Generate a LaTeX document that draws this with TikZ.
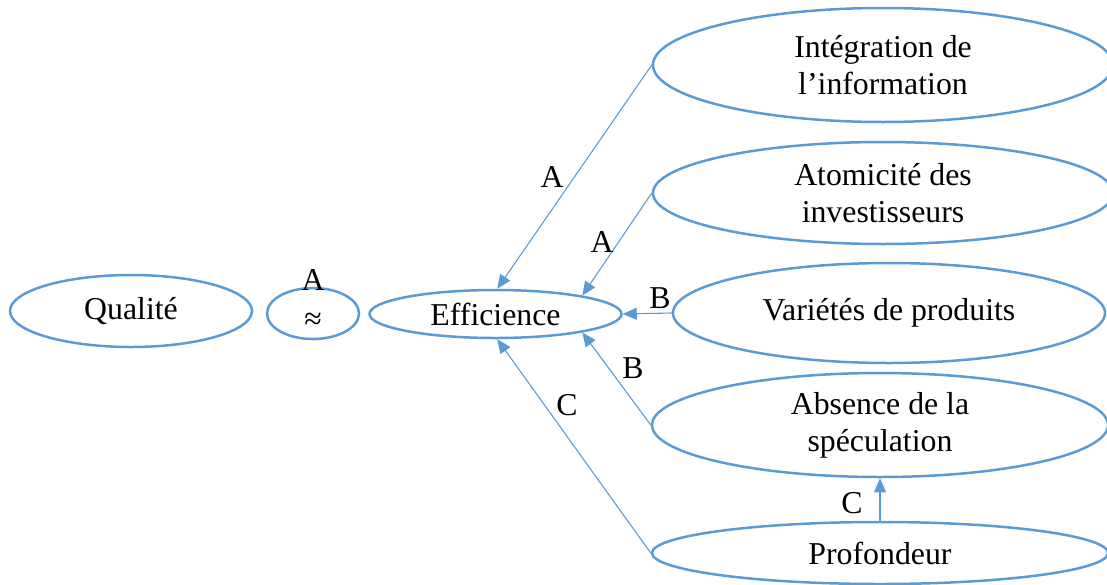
\documentclass[tikz,border=0pt]{standalone}
\usepackage{fontspec}
\setmainfont{Liberation Serif}
\usetikzlibrary{shapes.geometric,arrows.meta}
\definecolor{wblue}{RGB}{91,155,213}
\begin{document}
\begin{tikzpicture}[x=1pt,y=-1pt,
  oval/.style={ellipse, draw=wblue, line width=2.5pt, inner sep=0pt, align=center,
    font=\fontsize{31.8}{37}\selectfont},
  link/.style={draw=wblue, line width=1.1pt, -{Triangle[length=14pt,width=12pt]}},
  lbl/.style={font=\fontsize{31.8}{37}\selectfont, inner sep=0pt}]
\useasboundingbox (0,0) rectangle (1107,584);
\node[oval, minimum width=242pt, minimum height=72pt] (qual) at (131,311) {\raisebox{5pt}{Qualité}};
\node[oval, minimum width=92pt, minimum height=51pt] (approx) at (313,313.5) {\raisebox{-16pt}[0pt][0pt]{≈}};
\node[lbl] (aq) at (313,280) {A};
\node[oval, minimum width=252pt, minimum height=48pt] (eff) at (495.5,314) {Efficience};
\node[oval, minimum width=460pt, minimum height=114pt] (integ) at (883,65) {Intégration de\\l’information};
\node[oval, minimum width=460pt, minimum height=102pt] (atom) at (883,193) {Atomicité des\\investisseurs};
\node[oval, minimum width=432pt, minimum height=100pt] (var) at (889,313) {Variétés de produits};
\node[oval, minimum width=456pt, minimum height=104pt] (abs) at (880,425) {Absence de la\\spéculation};
\node[oval, minimum width=456pt, minimum height=62pt] (prof) at (880,553) {Profondeur};
\draw[link] (integ.west) -- (eff.86);
\draw[link] (atom.west) -- (eff.12);
\draw[link] (var.west) -- (eff.east);
\draw[link] (abs.west) -- (eff.-12);
\draw[link] (prof.west) -- (eff.-86);
\draw[link] (prof.north) -- (abs.south);
\node[lbl] (l1) at (552,177) {A};
\node[lbl] (l2) at (602,242) {A};
\node[lbl] (l3) at (660,298) {B};
\node[lbl] (l4) at (633,368) {B};
\node[lbl] (l5) at (567,405) {C};
\node[lbl] (l6) at (852,503) {C};
\end{tikzpicture}
\end{document}
